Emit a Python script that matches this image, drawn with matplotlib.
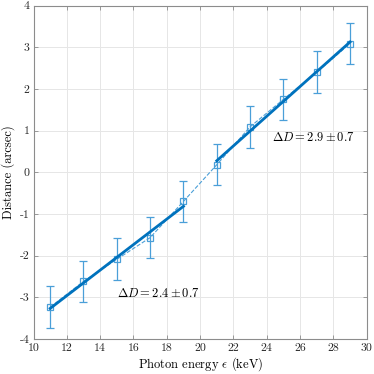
import matplotlib
matplotlib.use("Agg")
import matplotlib.pyplot as plt
import numpy as np
from matplotlib.ticker import FuncFormatter

plt.rcParams['font.family'] = 'serif'
plt.rcParams['font.serif'] = ['cmr10', 'DejaVu Serif']
plt.rcParams['mathtext.fontset'] = 'cm'
plt.rcParams['axes.unicode_minus'] = False

# data
energy = [11, 13, 15, 17, 19, 21, 23, 25, 27, 29]
distance = [-3.24, -2.62, -2.09, -1.57, -0.70, 0.18, 1.09, 1.75, 2.40, 3.09]
err = [0.50, 0.50, 0.50, 0.50, 0.50, 0.49, 0.50, 0.50, 0.50, 0.50]
n_low = 5
label_low = r'$\Delta D = 2.4 \pm 0.7$'
label_high = r'$\Delta D = 2.9 \pm 0.7$'

line_col = '#0072BD'
pt_col = '#4A9FD8'

fig = plt.figure(figsize=(3.74, 3.74), dpi=100)
ax = fig.add_axes([0.0896, 0.094, 0.891, 0.891])

x = np.array(energy, dtype=float)
y = np.array(distance, dtype=float)

ax.plot(x, y, '--', color=pt_col, lw=0.8, zorder=2)
ax.errorbar(x, y, yerr=err, fmt='s', color=pt_col, mfc='none', mec=pt_col,
            ms=5, mew=0.9, elinewidth=0.9, capsize=3, capthick=0.9, zorder=3)

# linear fits for the two groups
for sl in (slice(0, n_low), slice(n_low, None)):
    p = np.polyfit(x[sl], y[sl], 1)
    xs = np.array([x[sl][0], x[sl][-1]])
    ax.plot(xs, np.polyval(p, xs), '-', color=line_col, lw=2.0, zorder=4)

ax.text(15.0, -2.9, label_low, fontsize=9, va='center', ha='left')
ax.text(24.3, 0.83, label_high, fontsize=9, va='center', ha='left')

ax.set_xlim(10, 30)
ax.set_ylim(-4, 4)
ax.set_xticks(np.arange(10, 31, 2))
ax.set_yticks(np.arange(-4, 5, 1))
fmt = FuncFormatter(lambda v, pos: '%g' % v)
ax.xaxis.set_major_formatter(fmt)
ax.yaxis.set_major_formatter(fmt)
ax.set_xlabel(r'Photon energy $\epsilon$ (keV)', fontsize=9)
ax.set_ylabel('Distance (arcsec)', fontsize=9)
ax.xaxis.set_label_coords(0.5, -0.076)
ax.yaxis.set_label_coords(-0.077, 0.5)
ax.xaxis.label.set_va('center')
ax.yaxis.label.set_va('center')

ax.grid(True, color='#e6e6e6', lw=0.7)
ax.set_axisbelow(True)
for s in ax.spines.values():
    s.set_color('#8c8c8c')
    s.set_linewidth(0.8)
ax.tick_params(direction='in', top=True, right=True, length=3, width=0.6,
               color='#8c8c8c', labelsize=8.5, labelcolor='#262626', pad=3)

fig.savefig('out.png', dpi=100)
